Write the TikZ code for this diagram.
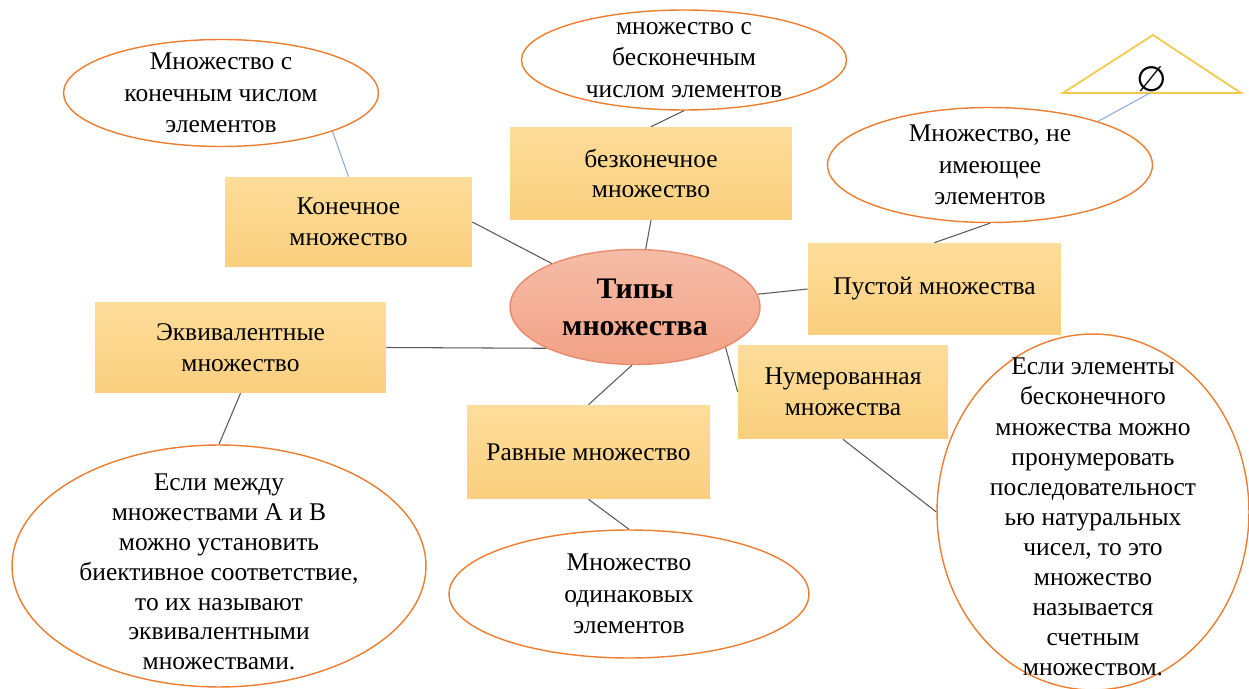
\documentclass[tikz,border=0pt]{standalone}
\usepackage{fontspec}
\setmainfont{Liberation Serif}
\newfontfamily\symfont{DejaVu Sans}
\usetikzlibrary{shapes.geometric}
\definecolor{rim}{HTML}{ED7D31}
\definecolor{boxtop}{HTML}{FDDD9A}
\definecolor{boxbot}{HTML}{FACF7E}
\definecolor{hubtop}{HTML}{F6BCA8}
\definecolor{hubbot}{HTML}{F2A286}
\definecolor{hubrim}{HTML}{E98C6E}
\definecolor{linegray}{HTML}{595959}
\definecolor{lineblue}{HTML}{8FAADC}
\definecolor{triyellow}{HTML}{F2C94C}
\tikzset{
  box/.style={rectangle, top color=boxtop, bottom color=boxbot, align=center,
    font=\fontsize{14.5}{17.5}\selectfont, inner sep=2pt},
  bubble/.style={ellipse, draw=rim, line width=.8pt, fill=white, inner sep=0pt},
  btext/.style={align=center, font=\fontsize{14.5}{17.8}\selectfont},
  link/.style={draw=linegray, line width=.6pt},
  bluelink/.style={draw=lineblue, line width=.6pt}
}
\begin{document}
\begin{tikzpicture}[x=.02cm,y=-.02cm]
  \useasboundingbox (0,0) rectangle (1249,689);
  \node[bubble, minimum width=6.3cm, minimum height=2.14cm,
    label={[btext]center:{Множество с\\конечным числом\\элементов}}] (efin) at (221,93) {};
  \node[bubble, minimum width=6.5cm, minimum height=2cm,
    label={[btext]center:{множество с\\бесконечным\\числом элементов}}] (einf) at (684,60) {};
  \node[bubble, minimum width=6.5cm, minimum height=2.3cm,
    label={[btext]center:{Множество, не\\имеющее\\элементов}}] (eempty) at (990,165) {};
  \node[bubble, minimum width=8.28cm, minimum height=4.84cm,
    label={[btext, font=\fontsize{14.5}{17}\selectfont, yshift=-.12cm]center:{Если между\\множествами А и В\\можно установить\\биективное соответствие,\\то их называют\\эквивалентными\\множествами.}}] (eeq) at (219,566) {};
  \node[bubble, minimum width=7.2cm, minimum height=2.56cm,
    label={[btext]center:{Множество\\одинаковых\\элементов}}] (eeqel) at (629,594) {};
  \node[bubble, minimum width=6.24cm, minimum height=7.12cm,
    label={[btext, font=\fontsize{14.5}{17.1}\selectfont, yshift=-.1cm]center:{Если элементы\\бесконечного\\множества можно\\пронумеровать\\последовательност\\ью натуральных\\чисел, то это\\множество\\называется\\счетным\\множеством.}}] (enum) at (1093,512) {};

  \node[ellipse, top color=hubtop, bottom color=hubbot, draw=hubrim, line width=.8pt,
    minimum width=5cm, minimum height=2.3cm, align=center,
    font=\bfseries\fontsize{17}{21}\selectfont] (types) at (635,307) {Типы\\множества};

  \node[box, minimum width=4.94cm, minimum height=1.8cm] (bfin) at (348.5,222) {Конечное\\множество};
  \node[box, minimum width=5.64cm, minimum height=1.86cm] (binf) at (651,173.5) {безконечное\\множество};
  \node[box, minimum width=5.06cm, minimum height=1.84cm] (bempty) at (934.5,289) {Пустой множества};
  \node[box, minimum width=5.82cm, minimum height=1.82cm] (beq) at (240.5,347.5) {Эквивалентные\\множество};
  \node[box, minimum width=4.86cm, minimum height=1.88cm] (bequal) at (588.5,452) {Равные множество};
  \node[box, minimum width=4.2cm, minimum height=1.88cm] (bnum) at (843,392) {Нумерованная\\множества};

  \draw[draw=triyellow, line width=1pt] (1063,93) -- (1153,35) -- (1241,93) -- cycle;
  \node[font=\symfont\fontsize{20}{20}\selectfont] (emptyset) at (1152,79) {∅};
  \coordinate (tribase) at (1150,93);

  \draw[bluelink] (bfin.north) -- (efin.-19);
  \draw[link] (bfin.east) -- (types);
  \draw[link] (binf.north) -- (einf.south);
  \draw[link] (binf.south) -- (types);
  \draw[link] (bempty.west) -- (types);
  \draw[link] (bempty.north) -- (eempty.south);
  \draw[bluelink] (eempty.22) -- (tribase);
  \draw[link] (beq.east) -- (types.205);
  \draw[link] (beq.south) -- (eeq.north);
  \draw[link] (types.-93) -- (bequal.north);
  \draw[link] (bequal.south) -- (eeqel.north);
  \draw[link] (types.-24) -- (bnum.west);
  \draw[link] (bnum.south) -- (enum.west);
\end{tikzpicture}
\end{document}
